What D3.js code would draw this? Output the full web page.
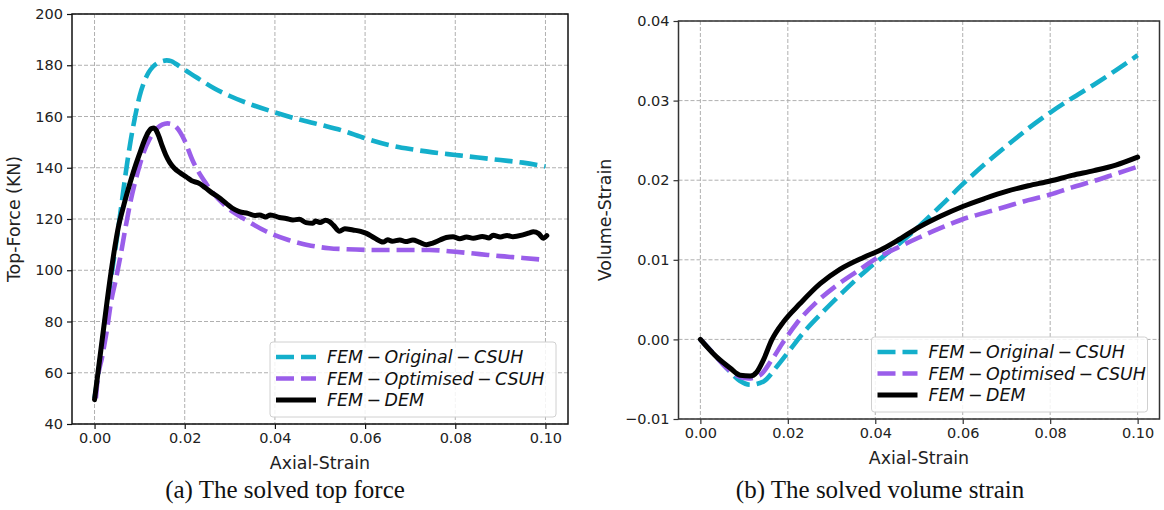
<!DOCTYPE html>
<html>
<head>
<meta charset="utf-8">
<script src="https://cdn.jsdelivr.net/npm/d3@7/dist/d3.min.js"></script>
<style>
  html, body { margin: 0; padding: 0; background: #fff; }
  svg { display: block; }
</style>
</head>
<body>
<svg id="chart" width="1164" height="510"></svg>
<script>
// ---------------- DATA ----------------
const seriesNames = ["FEM\u2009\u2212\u2009Original\u2009\u2212\u2009CSUH", "FEM\u2009\u2212\u2009Optimised\u2009\u2212\u2009CSUH", "FEM\u2009\u2212\u2009DEM"];
const captions = ["(a) The solved top force", "(b) The solved volume strain"];
const xLabel = "Axial-Strain";
const yLabels = ["Top-Force (KN)", "Volume-Strain"];
const xTicks = [0.00, 0.02, 0.04, 0.06, 0.08, 0.10];
const forceTicks = [40, 60, 80, 100, 120, 140, 160, 180, 200];
const volumeTicks = [-0.01, 0.00, 0.01, 0.02, 0.03, 0.04];

// (a) top force, [axial strain, force kN]
const forceOriginal = [[0,50],[0.001,62],[0.002,76],[0.003,89],[0.004,101],[0.005,113],[0.006,126],[0.007,139],[0.008,150.5],[0.009,160],[0.010,168],[0.011,173.5],[0.012,177.2],[0.013,179.5],[0.014,180.9],[0.015,181.6],[0.016,181.9],[0.017,181.6],[0.018,180.6],[0.019,179.4],[0.020,178.2],[0.0232,174.6],[0.0265,171],[0.030,168],[0.035,164.5],[0.040,161.6],[0.045,159],[0.050,156.8],[0.055,154.5],[0.060,151.5],[0.065,149],[0.070,147.3],[0.075,146],[0.080,145],[0.085,144],[0.090,143],[0.095,142],[0.100,140.5]];
const forceOptimised = [[0.0003,50],[0.0006,56],[0.0017,66.3],[0.0028,77.3],[0.0036,87],[0.0047,96.2],[0.0058,106],[0.0069,117],[0.008,127],[0.0095,137.8],[0.011,146.5],[0.0121,150.8],[0.013,153.6],[0.014,155.6],[0.015,156.8],[0.0162,157.3],[0.017,157.1],[0.018,156.1],[0.019,153.8],[0.020,150.5],[0.0217,143],[0.0247,133.9],[0.0292,124.8],[0.0336,119.6],[0.038,115.2],[0.043,111.8],[0.048,109.6],[0.052,108.6],[0.056,108.2],[0.0632,107.9],[0.0743,107.9],[0.080,107.2],[0.0854,106.3],[0.090,105.5],[0.095,104.8],[0.100,104]];
const forceDEM = [[0,49.5],[0.0017,73],[0.0036,98.5],[0.0045,109],[0.0053,117],[0.0062,123.5],[0.0072,130],[0.0082,136],[0.0092,141.5],[0.0102,146.5],[0.0111,150.8],[0.0119,153.8],[0.0126,155.3],[0.0132,155.5],[0.0137,154.5],[0.0143,152.1],[0.015,148.5],[0.0158,145],[0.0167,142],[0.0177,139.8],[0.019,138],[0.0203,136.5],[0.0215,135],[0.0232,133.9],[0.0245,132.3],[0.0262,130],[0.0275,128.5],[0.0292,126.1],[0.0305,124.3],[0.0321,122.9],[0.034,122.2],[0.0355,121.4],[0.0366,121.6],[0.038,120.8],[0.039,121.6],[0.041,120.6],[0.0425,120.2],[0.044,119.6],[0.0454,119.9],[0.0469,118.6],[0.0484,118.3],[0.049,119.2],[0.050,118.6],[0.0512,119.5],[0.0521,119],[0.053,117.5],[0.0543,115.2],[0.0555,116.2],[0.0573,115.7],[0.059,115.2],[0.0603,114.4],[0.062,112.7],[0.064,111],[0.065,111.9],[0.066,111.3],[0.0677,111.8],[0.069,111.2],[0.0706,111.8],[0.072,111],[0.0736,110],[0.075,110.6],[0.0766,111.8],[0.078,112.8],[0.0795,113.1],[0.081,112.3],[0.0825,113],[0.084,112.5],[0.086,113.2],[0.0875,112.6],[0.0884,113.7],[0.090,113],[0.0915,113.6],[0.0928,113.1],[0.095,113.8],[0.0965,114.6],[0.0973,115],[0.0985,114.3],[0.0995,112.5],[0.1003,113.5]];

// (b) volume strain, [axial strain, volume strain]
const volOriginal = [[0,0],[0.003,-0.0018],[0.006,-0.0036],[0.009,-0.0052],[0.0114,-0.0057],[0.0144,-0.0053],[0.0175,-0.0034],[0.0205,-0.0013],[0.0235,0.0008],[0.0281,0.0035],[0.0327,0.006],[0.038,0.0087],[0.0418,0.0104],[0.045,0.0118],[0.050,0.0142],[0.055,0.0168],[0.060,0.0195],[0.065,0.022],[0.070,0.0243],[0.075,0.0265],[0.080,0.0285],[0.085,0.0303],[0.090,0.032],[0.095,0.0338],[0.100,0.0357]];
const volOptimised = [[0,0],[0.003,-0.0018],[0.006,-0.0036],[0.009,-0.0047],[0.011,-0.0049],[0.0136,-0.0045],[0.0163,-0.0026],[0.019,-0.0003],[0.022,0.002],[0.0266,0.0047],[0.0312,0.0068],[0.0357,0.0085],[0.0403,0.0102],[0.045,0.0115],[0.050,0.0128],[0.055,0.014],[0.060,0.0151],[0.065,0.0159],[0.070,0.0167],[0.075,0.0175],[0.080,0.0182],[0.085,0.0191],[0.090,0.0199],[0.095,0.0208],[0.100,0.0217]];
const volDEM = [[0,0],[0.0037,-0.0022],[0.0068,-0.0036],[0.0091,-0.0045],[0.0114,-0.0046],[0.0129,-0.0041],[0.0144,-0.0026],[0.0163,-0.0001],[0.019,0.0022],[0.0228,0.0045],[0.0274,0.007],[0.0319,0.0088],[0.0373,0.0103],[0.0411,0.0112],[0.045,0.0124],[0.050,0.0141],[0.055,0.0155],[0.060,0.0167],[0.065,0.0177],[0.070,0.0186],[0.075,0.0193],[0.080,0.0199],[0.085,0.0206],[0.090,0.0212],[0.095,0.0219],[0.100,0.0229]];

// ---------------- STYLE ----------------
const colors = ["#14afcb", "#9a5eea", "#000000"];
const dashes = ["18,7", "18,7", null];
const widths = [4.6, 4.6, 5];
const tickFont = "14.5px";
const labelFont = "17.4px";
const FONT = "'DejaVu Sans', sans-serif";

const svg = d3.select("#chart");

function panel(cfg) {
  const x = d3.scaleLinear().domain([-0.005, 0.105]).range([cfg.left, cfg.right]);
  const y = d3.scaleLinear().domain(cfg.yDomain).range([cfg.bottom, cfg.top]);
  const g = svg.append("g");

  // grid
  g.append("g").selectAll("line").data(xTicks).join("line")
    .attr("x1", d => x(d)).attr("x2", d => x(d))
    .attr("y1", cfg.top).attr("y2", cfg.bottom)
    .attr("stroke", "#b0b0b0").attr("stroke-width", 1).attr("stroke-dasharray", "4,2");
  g.append("g").selectAll("line").data(cfg.yTicks).join("line")
    .attr("y1", d => y(d)).attr("y2", d => y(d))
    .attr("x1", cfg.left).attr("x2", cfg.right)
    .attr("stroke", "#b0b0b0").attr("stroke-width", 1).attr("stroke-dasharray", "4,2");

  // lines
  const line = d3.line().x(d => x(d[0])).y(d => y(d[1])).curve(d3.curveMonotoneX);
  const clipId = "clip" + cfg.id;
  svg.append("clipPath").attr("id", clipId).append("rect")
    .attr("x", cfg.left).attr("y", cfg.top)
    .attr("width", cfg.right - cfg.left).attr("height", cfg.bottom - cfg.top);
  cfg.series.forEach((s, i) => {
    g.append("path").datum(s)
      .attr("clip-path", `url(#${clipId})`)
      .attr("d", line)
      .attr("fill", "none")
      .attr("stroke", colors[i])
      .attr("stroke-width", widths[i])
      .attr("stroke-dasharray", dashes[i])
      .attr("stroke-linejoin", "round")
      .attr("stroke-linecap", i === 2 ? "round" : "butt");
  });

  // axes
  const xAxis = d3.axisBottom(x).tickValues(xTicks).tickFormat(d3.format(".2f")).tickSize(5).tickPadding(4);
  const yAxis = d3.axisLeft(y).tickValues(cfg.yTicks).tickFormat(cfg.yFormat).tickSize(5).tickPadding(4);
  const gx = g.append("g").attr("transform", `translate(0,${cfg.bottom})`).call(xAxis);
  const gy = g.append("g").attr("transform", `translate(${cfg.left},0)`).call(yAxis);
  [gx, gy].forEach(a => {
    a.select(".domain").remove();
    a.selectAll(".tick line").attr("stroke", cfg.spine).attr("stroke-width", 1.2);
    a.selectAll(".tick text").attr("font-family", FONT).attr("font-size", tickFont).attr("fill", "#222");
  });
  // spines
  g.append("rect").attr("x", cfg.left).attr("y", cfg.top)
    .attr("width", cfg.right - cfg.left).attr("height", cfg.bottom - cfg.top)
    .attr("fill", "none").attr("stroke", cfg.spine).attr("stroke-width", 1.5);

  // axis labels
  g.append("text").attr("x", x(0.05)).attr("y", cfg.bottom + 45)
    .attr("text-anchor", "middle").attr("font-family", FONT).attr("font-size", labelFont)
    .attr("fill", "#222").text(xLabel);
  g.append("text")
    .attr("transform", `translate(${cfg.yLabelX},${(cfg.top + cfg.bottom) / 2}) rotate(-90)`)
    .attr("text-anchor", "middle").attr("font-family", FONT).attr("font-size", labelFont)
    .attr("fill", "#222").text(cfg.yLabel);

  // legend
  const lg = g.append("g");
  const lw = cfg.legendW, lh = 75;
  const lx = cfg.right - 12 - lw, ly = cfg.bottom - 7 - lh;
  lg.append("rect").attr("x", lx).attr("y", ly).attr("width", lw).attr("height", lh)
    .attr("rx", 3).attr("fill", "#fff").attr("fill-opacity", 0.85)
    .attr("stroke", "#d0d0d0").attr("stroke-width", 1);
  seriesNames.forEach((name, i) => {
    const cy = ly + 15 + i * 21.5;
    lg.append("line").attr("x1", lx + 6).attr("x2", lx + 46).attr("y1", cy).attr("y2", cy)
      .attr("stroke", colors[i]).attr("stroke-width", widths[i])
      .attr("stroke-dasharray", dashes[i]);
    lg.append("text").attr("x", lx + 57).attr("y", cy).attr("dy", "0.35em")
      .attr("font-family", FONT).attr("font-style", "italic").attr("font-size", labelFont)
      .attr("fill", "#111").text(name);
  });

  // caption
  svg.append("text").attr("x", cfg.captionX).attr("y", 498)
    .attr("text-anchor", "middle").attr("font-family", "'Liberation Serif', 'Times New Roman', serif")
    .attr("font-size", "25px").attr("fill", "#111").text(cfg.caption);
}

panel({
  id: "a", left: 72, right: 568, top: 14, bottom: 424,
  yDomain: [40, 200], yTicks: forceTicks, yFormat: d3.format("d"),
  series: [forceOriginal, forceOptimised, forceDEM],
  spine: "#111", yLabel: yLabels[0], yLabelX: 20, legendW: 286,
  caption: captions[0], captionX: 285
});
panel({
  id: "b", left: 678.5, right: 1159.5, top: 21, bottom: 419,
  yDomain: [-0.01, 0.04], yTicks: volumeTicks, yFormat: d => d3.format(".2f")(d).replace("-", "\u2212"),
  series: [volOriginal, volOptimised, volDEM],
  spine: "#333", yLabel: yLabels[1], yLabelX: 611, legendW: 276,
  caption: captions[1], captionX: 880
});
</script>
</body>
</html>
